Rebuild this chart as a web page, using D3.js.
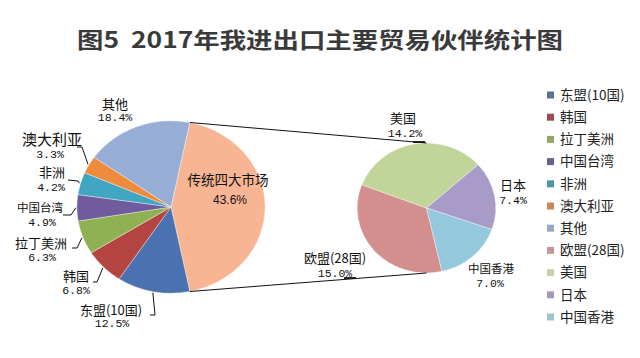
<!DOCTYPE html>
<html><head><meta charset="utf-8">
<script src="https://cdn.jsdelivr.net/npm/d3@7/dist/d3.min.js"></script>
<style>
html,body{margin:0;padding:0;background:#fff;}
svg{display:block;}
</style></head>
<body>
<svg id="c" width="640" height="358"></svg>
<script>
// ---- data ----
const title = "图5  2017年我进出口主要贸易伙伴统计图";
const mainNames  = ["传统四大市场","东盟(10国)","韩国","拉丁美洲","中国台湾","非洲","澳大利亚","其他"];
const mainValues = [43.6, 12.5, 6.8, 6.3, 4.9, 4.2, 3.3, 18.4];
const subNames   = ["欧盟(28国)","美国","日本","中国香港"];
const subValues  = [15.0, 14.2, 7.4, 7.0];
const legendNames = ["东盟(10国)","韩国","拉丁美洲","中国台湾","非洲","澳大利亚","其他","欧盟(28国)","美国","日本","中国香港"];

// ---- styles ----
const colors = {
  "传统四大市场":"#f8b594","东盟(10国)":"#4a72b0","韩国":"#b4443f","拉丁美洲":"#8fb153",
  "中国台湾":"#6f5b9d","非洲":"#41a6c1","澳大利亚":"#ee8b3c","其他":"#96aed6",
  "欧盟(28国)":"#d38f8e","美国":"#c1d49a","日本":"#a99bc7","中国香港":"#94c8dc"
};
const legendColors = {
  "东盟(10国)":"#5a7496","韩国":"#9c4c52","拉丁美洲":"#93a565","中国台湾":"#6b5f8c",
  "非洲":"#4f96a8","澳大利亚":"#c98a58","其他":"#9aa6c0","欧盟(28国)":"#c2989a",
  "美国":"#c6d0aa","日本":"#a79ab8","中国香港":"#9fc3cf"
};

const svg = d3.select("#c");
const deg = Math.PI/180;
const CJK = "'Noto Sans CJK SC','Noto Sans',sans-serif";
const MONO = "'Liberation Mono','DejaVu Sans Mono',monospace";

// title (horizontally stretched like the reference)
svg.append("text").attr("transform","translate(77,48) scale(1.2,1)")
  .attr("textLength",405).attr("lengthAdjust","spacing")
  .style("white-space","pre")
  .style("font-family",CJK).style("font-weight","bold").style("font-size","22px")
  .attr("fill","#3a3a3a").text(title);

// ---- layout ----
const main = {cx:171, cy:207, r:88, sx:1.07, sy:0.98};
const sub  = {cx:426.5, cy:208, r:66, sx:1.05, sy:0.985};
const mainTotal = d3.sum(mainValues);
const mainStart = (90 - mainValues[0]/mainTotal*180)*deg;
const subStart = 167.1*deg;

function pt(p, a, rr){ rr = rr===undefined? p.r: rr; return [p.cx + p.sx*rr*Math.sin(a), p.cy - p.sy*rr*Math.cos(a)]; }

const mainArcs = d3.pie().sort(null).value(d=>d.v).startAngle(mainStart).endAngle(mainStart+2*Math.PI)
  (mainNames.map((n,i)=>({n, v:mainValues[i]})));
const subArcs = d3.pie().sort(null).value(d=>d.v).startAngle(subStart).endAngle(subStart+2*Math.PI)
  (subNames.map((n,i)=>({n, v:subValues[i]})));

function drawPie(p, arcs){
  const g = svg.append("g").attr("transform",`translate(${p.cx},${p.cy}) scale(${p.sx},${p.sy})`);
  const arc = d3.arc().innerRadius(0).outerRadius(p.r);
  g.selectAll("path").data(arcs).join("path")
    .attr("d",arc).attr("fill",d=>colors[d.data.n])
    .attr("stroke","#fff").attr("stroke-width",0.6).attr("stroke-opacity",0.6);
}
drawPie(main, mainArcs);
drawPie(sub, subArcs);

// connector lines
const line = d3.line();
const a0 = mainArcs[0];
svg.append("path").attr("d", line([pt(main,a0.startAngle), pt(sub,0)]))
  .attr("stroke","#111").attr("stroke-width",1).attr("fill","none");
svg.append("path").attr("d", line([pt(main,a0.endAngle), pt(sub,Math.PI)]))
  .attr("stroke","#111").attr("stroke-width",1).attr("fill","none");

// ---- labels (layout) ----
const mainLabelPos = {
  "传统四大市场":{nx:228,ny:180,px:230,py:200,fs:13.5,mono:false},
  "东盟(10国)":{nx:111,ny:310,px:112,py:323,fs:13,lead:[[150,315],[155,315]]},
  "韩国":{nx:76,ny:276,px:76,py:290,fs:13,lead:[[93,282],[97,282]]},
  "拉丁美洲":{nx:41,ny:243,px:42,py:257,fs:13,lead:[[72,248],[77,248]]},
  "中国台湾":{nx:40,ny:208,px:42,py:222,fs:11.5,lead:[[63,215],[71,215]]},
  "非洲":{nx:52,ny:172,px:51,py:187,fs:13,lead:[[68,180],[78,181]]},
  "澳大利亚":{nx:52,ny:140,px:50,py:154,fs:15,lead:[[77,147],[82,147]]},
  "其他":{nx:115,ny:104,px:115,py:117,fs:13}
};
const subLabelPos = {
  "欧盟(28国)":{nx:335,ny:258,px:335,py:273,fs:13,lead:[[344,278],[356,278]]},
  "美国":{nx:403,ny:118,px:405,py:133,fs:13,lead:[[413,142],[425,142]]},
  "日本":{nx:513,ny:185,px:513,py:200,fs:13},
  "中国香港":{nx:491,ny:269,px:490,py:283,fs:11.5}
};

function drawLabels(p, arcs, pos){
  arcs.forEach(d=>{
    const L = pos[d.data.n];
    const pct = d3.format(".1f")(d.data.v) + "%";
    svg.append("text").attr("x",L.nx).attr("y",L.ny + L.fs*0.36)
      .attr("text-anchor","middle").style("font-family",CJK).style("font-size",L.fs+"px")
      .attr("fill","#111").text(d.data.n);
    const isMono = L.mono!==false;
    svg.append("text").attr("x",L.px).attr("y",L.py + 4.3)
      .attr("text-anchor","middle")
      .style("font-family", isMono? MONO : "'Liberation Sans',Arial,sans-serif")
      .style("font-size", isMono? "11.5px":"12px")
      .attr("fill","#111").text(pct);
    if(L.lead){
      const mid = (d.startAngle+d.endAngle)/2;
      const pts = L.lead.slice();
      if(p===main) pts.push(pt(p, mid, p.r+1));
      svg.append("path").attr("d", line(pts)).attr("fill","none")
        .attr("stroke","#111").attr("stroke-width", p===main?1:1.8);
    }
  });
}
drawLabels(main, mainArcs, mainLabelPos);
drawLabels(sub, subArcs, subLabelPos);

// ---- legend ----
const ly = d3.scalePoint().domain(legendNames).range([95, 317]);
const lg = svg.append("g");
legendNames.forEach(n=>{
  lg.append("rect").attr("x",547).attr("y",ly(n)-3.5).attr("width",7).attr("height",7)
    .attr("fill",legendColors[n]);
  lg.append("text").attr("x",560).attr("y",ly(n)+4.8)
    .style("font-family",CJK).style("font-size","13.5px").attr("fill","#222").text(n);
});
</script>
</body></html>
